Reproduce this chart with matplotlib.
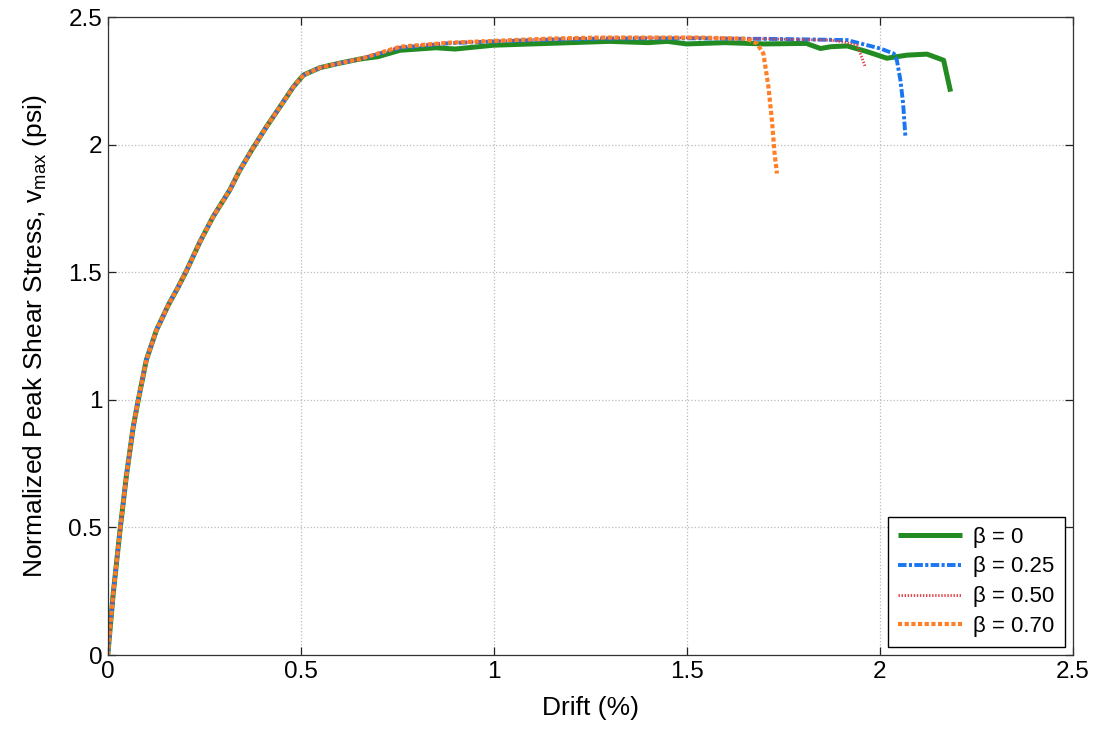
import matplotlib
matplotlib.use('Agg')
import matplotlib.pyplot as plt

plt.rcParams['font.family'] = ['Liberation Sans', 'DejaVu Sans']
plt.rcParams['mathtext.fontset'] = 'custom'
plt.rcParams['mathtext.rm'] = 'Liberation Sans'
plt.rcParams['mathtext.it'] = 'Liberation Sans'
plt.rcParams['mathtext.default'] = 'regular'

# tramo comun (subida)
drift_base = [0, 0.014, 0.031, 0.048, 0.066, 0.079, 0.100, 0.126, 0.158, 0.180,
              0.202, 0.239, 0.273, 0.316, 0.342, 0.373, 0.411, 0.446, 0.481, 0.507,
              0.55, 0.602, 0.654]
stress_base = [0, 0.24, 0.48, 0.70, 0.895, 1.0, 1.157, 1.273, 1.375, 1.435,
               1.5, 1.62, 1.718, 1.822, 1.90, 1.979, 2.07, 2.148, 2.227, 2.273,
               2.302, 2.32, 2.336]

# beta = 0
drift_b0 = drift_base + [0.70, 0.757, 0.85, 0.9, 1.0, 1.1, 1.2, 1.3, 1.4, 1.45, 1.5,
                         1.6, 1.7, 1.81, 1.847, 1.873, 1.916, 1.967, 2.019, 2.071,
                         2.123, 2.166, 2.184]
stress_b0 = stress_base + [2.345, 2.37, 2.38, 2.375, 2.39, 2.395, 2.40, 2.405, 2.40,
                           2.405, 2.395, 2.40, 2.395, 2.397, 2.377, 2.384, 2.387,
                           2.365, 2.339, 2.351, 2.355, 2.331, 2.208]

# beta = 0.25
drift_b25 = drift_base + [0.757, 0.887, 1.004, 1.146, 1.276, 1.406, 1.536, 1.656, 1.7,
                          1.8, 1.916, 2.002, 2.037, 2.045, 2.054, 2.061, 2.067]
stress_b25 = stress_base + [2.38, 2.398, 2.405, 2.412, 2.416, 2.417, 2.417, 2.415, 2.415,
                            2.413, 2.41, 2.377, 2.357, 2.33, 2.253, 2.162, 2.031]

# beta = 0.50
drift_b50 = drift_base + [0.757, 0.887, 1.004, 1.146, 1.276, 1.406, 1.536, 1.656, 1.7,
                          1.8, 1.873, 1.916, 1.942, 1.963]
stress_b50 = stress_base + [2.382, 2.40, 2.406, 2.414, 2.418, 2.419, 2.419, 2.416, 2.415,
                            2.412, 2.41, 2.40, 2.39, 2.305]

# beta = 0.70
drift_b70 = drift_base + [0.757, 0.887, 1.004, 1.146, 1.276, 1.406, 1.536, 1.656, 1.682,
                          1.699, 1.712, 1.721, 1.728, 1.734]
stress_b70 = stress_base + [2.384, 2.40, 2.407, 2.416, 2.42, 2.42, 2.42, 2.415, 2.397,
                            2.357, 2.227, 2.096, 1.966, 1.887]

etiquetas = ['β = 0', 'β = 0.25', 'β = 0.50', 'β = 0.70']
ticks = [0, 0.5, 1, 1.5, 2, 2.5]
tick_labels = ['0', '0.5', '1', '1.5', '2', '2.5']

fig = plt.figure(figsize=(11, 7.29), dpi=100)
ax = fig.add_axes([0.098, 0.1015, 0.877, 0.875])

ax.plot(drift_b0, stress_b0, color='#228B22', lw=3.6, solid_capstyle='butt',
        label=etiquetas[0])
ax.plot(drift_b25, stress_b25, color='#1A75F0', lw=2.8, dashes=(2.2, 0.6, 0.8, 0.6),
        dash_capstyle='butt', label=etiquetas[1])
ax.plot(drift_b50, stress_b50, color='#E0404A', lw=2.0, dashes=(0.5, 0.6),
        dash_capstyle='butt', label=etiquetas[2])
ax.plot(drift_b70, stress_b70, color='#FF7F27', lw=3.0, dashes=(1.0, 0.6),
        dash_capstyle='butt', label=etiquetas[3])

ax.set_xlim(0, 2.5)
ax.set_ylim(0, 2.5)
ax.set_xticks(ticks)
ax.set_xticklabels(tick_labels)
ax.set_yticks(ticks)
ax.set_yticklabels(tick_labels)

ax.grid(True, linestyle=':', color='#BBBBBB', linewidth=0.9)
ax.tick_params(direction='in', length=6, width=0.9, top=True, right=True,
               labelsize=17.5, colors='#222222', labelcolor='black', pad=4)
for s in ax.spines.values():
    s.set_color('#333333')
    s.set_linewidth(0.9)

ax.set_xlabel('Drift (%)', fontsize=19, labelpad=10)
ax.set_ylabel('Normalized Peak Shear Stress, v$_{max}$ (psi)', fontsize=19, labelpad=14)

leg = ax.legend(loc='lower right', fontsize=16, frameon=True, fancybox=False,
                framealpha=1, edgecolor='black', handlelength=2.9, labelspacing=0.4,
                borderaxespad=0.35, handletextpad=0.5, borderpad=0.45)
leg.get_frame().set_linewidth(1.0)

plt.savefig('out.png', dpi=100)
